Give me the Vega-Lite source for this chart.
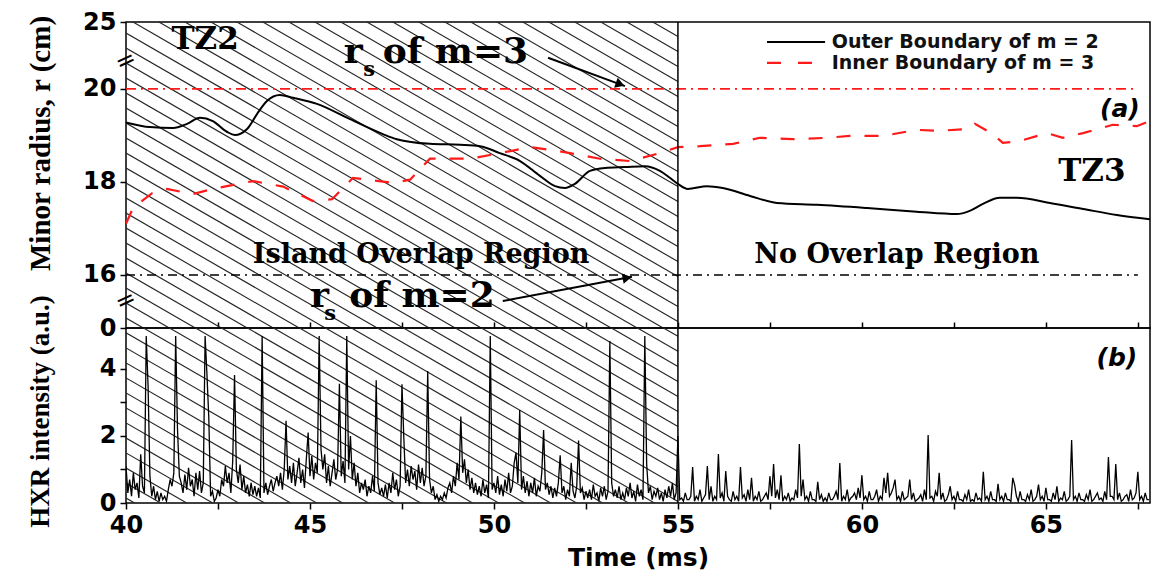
{
  "$schema": "https://vega.github.io/schema/vega-lite/v6.json",
  "autosize": {"type": "pad"},
  "padding": {"left": 25, "top": 9, "right": 0, "bottom": 5},
  "background": "white",
  "spacing": 0,
  "bounds": "flush",
  "config": {
    "view": {"stroke": "black", "strokeWidth": 1.5},
    "axis": {"labelFont": "DejaVu Sans", "labelFontWeight": "bold", "labelFontSize": 24, "labelColor": "black", "tickColor": "black", "tickWidth": 1.5, "domainColor": "black", "grid": false, "titleColor": "black", "labelOverlap": false}
  },
  "datasets": {
    "hatchTop": [
      {"t":40,"t2":55,"r":27.978,"r2":21.128},{"t":40,"t2":55,"r":27.656,"r2":20.806},{"t":40,"t2":55,"r":27.333,"r2":20.483},{"t":40,"t2":55,"r":27.010,"r2":20.160},{"t":40,"t2":55,"r":26.688,"r2":19.838},{"t":40,"t2":55,"r":26.365,"r2":19.515},{"t":40,"t2":55,"r":26.043,"r2":19.193},{"t":40,"t2":55,"r":25.720,"r2":18.870},{"t":40,"t2":55,"r":25.398,"r2":18.548},{"t":40,"t2":55,"r":25.075,"r2":18.225},{"t":40,"t2":55,"r":24.752,"r2":17.902},{"t":40,"t2":55,"r":24.430,"r2":17.580},{"t":40,"t2":55,"r":24.107,"r2":17.257},{"t":40,"t2":55,"r":23.785,"r2":16.935},{"t":40,"t2":55,"r":23.462,"r2":16.612},{"t":40,"t2":55,"r":23.139,"r2":16.289},{"t":40,"t2":55,"r":22.817,"r2":15.967},{"t":40,"t2":55,"r":22.494,"r2":15.644},{"t":40,"t2":55,"r":22.172,"r2":15.322},{"t":40,"t2":55,"r":21.849,"r2":14.999},{"t":40,"t2":55,"r":21.527,"r2":14.677},{"t":40,"t2":55,"r":21.204,"r2":14.354},{"t":40,"t2":55,"r":20.881,"r2":14.031},{"t":40,"t2":55,"r":20.559,"r2":13.709},{"t":40,"t2":55,"r":20.236,"r2":13.386},{"t":40,"t2":55,"r":19.914,"r2":13.064},{"t":40,"t2":55,"r":19.591,"r2":12.741},{"t":40,"t2":55,"r":19.269,"r2":12.419},{"t":40,"t2":55,"r":18.946,"r2":12.096},{"t":40,"t2":55,"r":18.623,"r2":11.773},{"t":40,"t2":55,"r":18.301,"r2":11.451},{"t":40,"t2":55,"r":17.978,"r2":11.128},{"t":40,"t2":55,"r":17.656,"r2":10.806},{"t":40,"t2":55,"r":17.333,"r2":10.483},{"t":40,"t2":55,"r":17.010,"r2":10.160},{"t":40,"t2":55,"r":16.688,"r2":9.838},{"t":40,"t2":55,"r":16.365,"r2":9.515},{"t":40,"t2":55,"r":16.043,"r2":9.193},{"t":40,"t2":55,"r":15.720,"r2":8.870},{"t":40,"t2":55,"r":15.398,"r2":8.548},{"t":40,"t2":55,"r":15.075,"r2":8.225}
    ],
    "hatchBot": [
      {"t":40,"t2":55,"v":14.478,"v2":4.971},{"t":40,"t2":55,"v":14.030,"v2":4.523},{"t":40,"t2":55,"v":13.582,"v2":4.075},{"t":40,"t2":55,"v":13.134,"v2":3.627},{"t":40,"t2":55,"v":12.687,"v2":3.180},{"t":40,"t2":55,"v":12.239,"v2":2.732},{"t":40,"t2":55,"v":11.791,"v2":2.284},{"t":40,"t2":55,"v":11.343,"v2":1.836},{"t":40,"t2":55,"v":10.896,"v2":1.389},{"t":40,"t2":55,"v":10.448,"v2":0.941},{"t":40,"t2":55,"v":10.000,"v2":0.493},{"t":40,"t2":55,"v":9.552,"v2":0.045},{"t":40,"t2":55,"v":9.104,"v2":-0.403},{"t":40,"t2":55,"v":8.657,"v2":-0.850},{"t":40,"t2":55,"v":8.209,"v2":-1.298},{"t":40,"t2":55,"v":7.761,"v2":-1.746},{"t":40,"t2":55,"v":7.313,"v2":-2.194},{"t":40,"t2":55,"v":6.866,"v2":-2.641},{"t":40,"t2":55,"v":6.418,"v2":-3.089},{"t":40,"t2":55,"v":5.970,"v2":-3.537},{"t":40,"t2":55,"v":5.522,"v2":-3.985},{"t":40,"t2":55,"v":5.075,"v2":-4.432},{"t":40,"t2":55,"v":4.627,"v2":-4.880},{"t":40,"t2":55,"v":4.179,"v2":-5.328},{"t":40,"t2":55,"v":3.731,"v2":-5.776},{"t":40,"t2":55,"v":3.284,"v2":-6.223},{"t":40,"t2":55,"v":2.836,"v2":-6.671},{"t":40,"t2":55,"v":2.388,"v2":-7.119},{"t":40,"t2":55,"v":1.940,"v2":-7.567},{"t":40,"t2":55,"v":1.493,"v2":-8.014},{"t":40,"t2":55,"v":1.045,"v2":-8.462},{"t":40,"t2":55,"v":0.597,"v2":-8.910},{"t":40,"t2":55,"v":0.149,"v2":-9.358}
    ],
    "outer": [
      {"t":40,"r":19.28},{"t":40.05,"r":19.27},{"t":40.65,"r":19.18},{"t":41.28,"r":19.16},{"t":41.66,"r":19.25},{"t":42.01,"r":19.38},{"t":42.36,"r":19.31},{"t":42.74,"r":19.08},{"t":42.96,"r":19.01},{"t":43.29,"r":19.14},{"t":43.56,"r":19.46},{"t":43.83,"r":19.74},{"t":44.18,"r":19.87},{"t":44.54,"r":19.81},{"t":45.19,"r":19.68},{"t":46.09,"r":19.35},{"t":46.98,"r":19.03},{"t":47.36,"r":18.92},{"t":48.26,"r":18.82},{"t":49.08,"r":18.8},{"t":49.62,"r":18.77},{"t":50.16,"r":18.62},{"t":50.71,"r":18.45},{"t":51.25,"r":18.13},{"t":51.66,"r":17.91},{"t":51.93,"r":17.87},{"t":52.2,"r":17.96},{"t":52.61,"r":18.24},{"t":53.02,"r":18.3},{"t":53.56,"r":18.32},{"t":54.1,"r":18.34},{"t":54.51,"r":18.24},{"t":54.78,"r":18.09},{"t":55,"r":17.96},{"t":55.27,"r":17.85},{"t":55.79,"r":17.91},{"t":56.22,"r":17.87},{"t":56.96,"r":17.7},{"t":57.69,"r":17.55},{"t":58.78,"r":17.51},{"t":60.14,"r":17.44},{"t":61.49,"r":17.36},{"t":62.58,"r":17.31},{"t":62.93,"r":17.38},{"t":63.29,"r":17.53},{"t":63.75,"r":17.66},{"t":64.21,"r":17.66},{"t":65.11,"r":17.55},{"t":66.01,"r":17.42},{"t":66.93,"r":17.29},{"t":67.83,"r":17.2}
    ],
    "inner": [
      {"t":40,"r":17.1},{"t":40.19,"r":17.44},{"t":40.71,"r":17.76},{"t":41.11,"r":17.85},{"t":41.82,"r":17.74},{"t":42.36,"r":17.85},{"t":43.45,"r":18.02},{"t":44.27,"r":17.9},{"t":45.08,"r":17.59},{"t":45.6,"r":17.63},{"t":46.17,"r":18.09},{"t":47.26,"r":17.98},{"t":47.72,"r":18.05},{"t":48.26,"r":18.5},{"t":49.35,"r":18.5},{"t":50.16,"r":18.62},{"t":50.98,"r":18.75},{"t":51.79,"r":18.66},{"t":52.88,"r":18.5},{"t":53.7,"r":18.45},{"t":54.51,"r":18.62},{"t":55,"r":18.75},{"t":55.6,"r":18.77},{"t":56.5,"r":18.82},{"t":57.23,"r":18.95},{"t":58.12,"r":18.92},{"t":59.05,"r":18.95},{"t":59.67,"r":18.99},{"t":60.57,"r":18.99},{"t":61.49,"r":19.12},{"t":62.12,"r":19.1},{"t":62.85,"r":19.14},{"t":63.07,"r":19.25},{"t":63.56,"r":19.03},{"t":63.83,"r":18.84},{"t":64.29,"r":18.88},{"t":65.03,"r":19.05},{"t":65.46,"r":18.95},{"t":66.01,"r":19.05},{"t":66.82,"r":19.23},{"t":67.47,"r":19.2},{"t":67.83,"r":19.31}
    ],
    "hxr": [
      {"t":40,"v":1.1},{"t":40.05,"v":0.3},{"t":40.1,"v":0.7},{"t":40.15,"v":0.2},{"t":40.2,"v":0.9},{"t":40.25,"v":0.4},{"t":40.3,"v":0.6},{"t":40.35,"v":0.15},{"t":40.4,"v":1.45},{"t":40.45,"v":0.5},
      {"t":40.5,"v":0.3},{"t":40.55,"v":4.98},{"t":40.6,"v":3.5},{"t":40.65,"v":0.8},{"t":40.7,"v":0.2},{"t":40.75,"v":0.5},{"t":40.8,"v":0.1},{"t":40.85,"v":0.35},{"t":40.9,"v":0.05},{"t":40.95,"v":0.3},
      {"t":41,"v":0.1},{"t":41.05,"v":0.2},{"t":41.1,"v":0.05},{"t":41.15,"v":0.4},{"t":41.2,"v":0.7},{"t":41.25,"v":0.5},{"t":41.3,"v":0.9},{"t":41.35,"v":4.98},{"t":41.4,"v":2.2},{"t":41.45,"v":0.8},
      {"t":41.5,"v":0.6},{"t":41.55,"v":0.3},{"t":41.6,"v":0.85},{"t":41.65,"v":0.4},{"t":41.7,"v":1.05},{"t":41.75,"v":0.5},{"t":41.8,"v":0.7},{"t":41.85,"v":0.2},{"t":41.9,"v":0.9},{"t":41.95,"v":0.4},
      {"t":42,"v":0.95},{"t":42.05,"v":0.3},{"t":42.1,"v":0.6},{"t":42.15,"v":4.98},{"t":42.2,"v":3.84},{"t":42.25,"v":2.55},{"t":42.3,"v":0.2},{"t":42.35,"v":0.35},{"t":42.4,"v":0.05},{"t":42.45,"v":0.15},
      {"t":42.5,"v":0.4},{"t":42.55,"v":0.2},{"t":42.6,"v":0.7},{"t":42.65,"v":0.5},{"t":42.7,"v":1.1},{"t":42.75,"v":0.6},{"t":42.8,"v":0.9},{"t":42.85,"v":0.3},{"t":42.9,"v":1.25},{"t":42.95,"v":3.82},
      {"t":43,"v":1.0},{"t":43.05,"v":0.6},{"t":43.1,"v":1.15},{"t":43.15,"v":0.4},{"t":43.2,"v":0.8},{"t":43.25,"v":0.3},{"t":43.3,"v":0.55},{"t":43.35,"v":0.2},{"t":43.4,"v":0.6},{"t":43.45,"v":0.25},
      {"t":43.5,"v":0.5},{"t":43.55,"v":0.2},{"t":43.6,"v":0.45},{"t":43.65,"v":0.15},{"t":43.7,"v":4.98},{"t":43.75,"v":0.3},{"t":43.8,"v":0.6},{"t":43.85,"v":0.25},{"t":43.9,"v":0.5},{"t":43.95,"v":0.7},
      {"t":44,"v":0.35},{"t":44.05,"v":0.6},{"t":44.1,"v":0.8},{"t":44.15,"v":0.5},{"t":44.2,"v":0.9},{"t":44.25,"v":0.4},{"t":44.3,"v":1.0},{"t":44.35,"v":2.45},{"t":44.4,"v":0.7},{"t":44.45,"v":1.1},
      {"t":44.5,"v":0.6},{"t":44.55,"v":1.2},{"t":44.6,"v":0.5},{"t":44.65,"v":0.9},{"t":44.7,"v":1.35},{"t":44.75,"v":0.6},{"t":44.8,"v":1.0},{"t":44.85,"v":0.45},{"t":44.9,"v":1.3},{"t":44.95,"v":2.1},
      {"t":45,"v":0.8},{"t":45.05,"v":1.4},{"t":45.1,"v":0.7},{"t":45.15,"v":1.2},{"t":45.2,"v":0.9},{"t":45.25,"v":4.98},{"t":45.3,"v":1.6},{"t":45.35,"v":1.0},{"t":45.4,"v":1.45},{"t":45.45,"v":0.6},
      {"t":45.5,"v":1.1},{"t":45.55,"v":0.5},{"t":45.6,"v":0.9},{"t":45.65,"v":1.3},{"t":45.7,"v":0.7},{"t":45.75,"v":1.0},{"t":45.8,"v":3.56},{"t":45.85,"v":0.8},{"t":45.9,"v":1.25},{"t":45.95,"v":0.6},
      {"t":46,"v":4.98},{"t":46.05,"v":1.0},{"t":46.1,"v":2.0},{"t":46.15,"v":0.7},{"t":46.2,"v":1.2},{"t":46.25,"v":0.5},{"t":46.3,"v":0.9},{"t":46.35,"v":0.3},{"t":46.4,"v":0.6},{"t":46.45,"v":0.4},
      {"t":46.5,"v":0.7},{"t":46.55,"v":0.2},{"t":46.6,"v":0.5},{"t":46.65,"v":0.3},{"t":46.7,"v":0.8},{"t":46.75,"v":0.35},{"t":46.8,"v":3.66},{"t":46.85,"v":0.6},{"t":46.9,"v":0.25},{"t":46.95,"v":0.45},
      {"t":47,"v":0.2},{"t":47.05,"v":0.55},{"t":47.1,"v":0.15},{"t":47.15,"v":0.6},{"t":47.2,"v":0.3},{"t":47.25,"v":0.9},{"t":47.3,"v":0.4},{"t":47.35,"v":0.7},{"t":47.4,"v":0.2},{"t":47.45,"v":0.5},
      {"t":47.5,"v":3.54},{"t":47.55,"v":1.96},{"t":47.6,"v":0.6},{"t":47.65,"v":1.0},{"t":47.7,"v":0.5},{"t":47.75,"v":1.1},{"t":47.8,"v":0.7},{"t":47.85,"v":0.95},{"t":47.9,"v":0.4},{"t":47.95,"v":1.15},
      {"t":48,"v":0.6},{"t":48.05,"v":1.05},{"t":48.1,"v":0.5},{"t":48.15,"v":0.8},{"t":48.2,"v":3.94},{"t":48.25,"v":0.7},{"t":48.3,"v":0.3},{"t":48.35,"v":0.5},{"t":48.4,"v":0.1},{"t":48.45,"v":0.25},
      {"t":48.5,"v":0.05},{"t":48.55,"v":0.2},{"t":48.6,"v":0.1},{"t":48.65,"v":0.3},{"t":48.7,"v":0.15},{"t":48.75,"v":0.45},{"t":48.8,"v":0.6},{"t":48.85,"v":0.3},{"t":48.9,"v":0.8},{"t":48.95,"v":0.5},
      {"t":49,"v":1.2},{"t":49.05,"v":0.7},{"t":49.1,"v":2.58},{"t":49.15,"v":0.9},{"t":49.2,"v":1.3},{"t":49.25,"v":0.6},{"t":49.3,"v":1.0},{"t":49.35,"v":0.4},{"t":49.4,"v":0.75},{"t":49.45,"v":0.3},
      {"t":49.5,"v":0.6},{"t":49.55,"v":0.25},{"t":49.6,"v":0.5},{"t":49.65,"v":0.2},{"t":49.7,"v":0.7},{"t":49.75,"v":0.3},{"t":49.8,"v":0.55},{"t":49.85,"v":0.15},{"t":49.9,"v":4.98},{"t":49.95,"v":0.4},
      {"t":50,"v":0.6},{"t":50.05,"v":0.3},{"t":50.1,"v":0.8},{"t":50.15,"v":0.25},{"t":50.2,"v":0.55},{"t":50.25,"v":0.2},{"t":50.3,"v":0.7},{"t":50.35,"v":0.35},{"t":50.4,"v":0.9},{"t":50.45,"v":0.3},
      {"t":50.5,"v":0.5},{"t":50.55,"v":1.2},{"t":50.6,"v":1.5},{"t":50.65,"v":0.6},{"t":50.7,"v":2.77},{"t":50.75,"v":0.4},{"t":50.8,"v":0.8},{"t":50.85,"v":0.3},{"t":50.9,"v":0.65},{"t":50.95,"v":0.2},
      {"t":51,"v":0.6},{"t":51.05,"v":0.3},{"t":51.1,"v":0.75},{"t":51.15,"v":0.2},{"t":51.2,"v":0.5},{"t":51.25,"v":0.35},{"t":51.3,"v":0.9},{"t":51.35,"v":2.18},{"t":51.4,"v":0.4},{"t":51.45,"v":0.6},
      {"t":51.5,"v":0.25},{"t":51.55,"v":0.5},{"t":51.6,"v":0.15},{"t":51.65,"v":0.45},{"t":51.7,"v":0.2},{"t":51.75,"v":0.6},{"t":51.8,"v":1.42},{"t":51.85,"v":0.3},{"t":51.9,"v":0.5},{"t":51.95,"v":0.1},
      {"t":52,"v":0.4},{"t":52.05,"v":0.2},{"t":52.1,"v":1.2},{"t":52.15,"v":0.35},{"t":52.2,"v":0.15},{"t":52.25,"v":0.5},{"t":52.3,"v":1.86},{"t":52.35,"v":0.3},{"t":52.4,"v":0.45},{"t":52.45,"v":0.1},
      {"t":52.5,"v":0.35},{"t":52.55,"v":0.15},{"t":52.6,"v":0.4},{"t":52.65,"v":0.1},{"t":52.7,"v":0.55},{"t":52.75,"v":0.2},{"t":52.8,"v":0.3},{"t":52.85,"v":0.05},{"t":52.9,"v":0.45},{"t":52.95,"v":0.2},
      {"t":53,"v":0.5},{"t":53.05,"v":0.1},{"t":53.1,"v":0.35},{"t":53.15,"v":4.83},{"t":53.2,"v":0.6},{"t":53.25,"v":0.2},{"t":53.3,"v":0.4},{"t":53.35,"v":0.15},{"t":53.4,"v":0.5},{"t":53.45,"v":0.1},
      {"t":53.5,"v":0.3},{"t":53.55,"v":0.1},{"t":53.6,"v":0.45},{"t":53.65,"v":0.2},{"t":53.7,"v":0.6},{"t":53.75,"v":0.15},{"t":53.8,"v":0.35},{"t":53.85,"v":0.05},{"t":53.9,"v":0.55},{"t":53.95,"v":0.2},
      {"t":54,"v":0.4},{"t":54.05,"v":0.1},{"t":54.1,"v":4.98},{"t":54.15,"v":1.17},{"t":54.2,"v":0.3},{"t":54.25,"v":0.5},{"t":54.3,"v":0.1},{"t":54.35,"v":0.35},{"t":54.4,"v":0.2},{"t":54.45,"v":0.45},
      {"t":54.5,"v":0.1},{"t":54.55,"v":0.3},{"t":54.6,"v":0.05},{"t":54.65,"v":0.4},{"t":54.7,"v":0.15},{"t":54.75,"v":0.5},{"t":54.8,"v":0.2},{"t":54.85,"v":0.6},{"t":54.9,"v":0.1},{"t":54.95,"v":0.3},
      {"t":55,"v":2.0},{"t":55.05,"v":0.1},{"t":55.1,"v":0.15},{"t":55.15,"v":0.05},{"t":55.2,"v":0.3},{"t":55.25,"v":0.1},{"t":55.3,"v":0.1},{"t":55.35,"v":0.2},{"t":55.4,"v":1.07},{"t":55.45,"v":0.05},{"t":55.5,"v":0.2},{"t":55.55,"v":0.1},{"t":55.6,"v":0.4},{"t":55.65,"v":0.05},{"t":55.7,"v":0.15},{"t":55.75,"v":0.25},{"t":55.8,"v":1.1},{"t":55.85,"v":0.1},{"t":55.9,"v":0.5},{"t":55.95,"v":0.05},
      {"t":56,"v":0.2},{"t":56.05,"v":0.1},{"t":56.1,"v":1.46},{"t":56.15,"v":0.15},{"t":56.2,"v":0.3},{"t":56.25,"v":0.05},{"t":56.3,"v":0.95},{"t":56.35,"v":0.2},{"t":56.4,"v":0.1},{"t":56.45,"v":0.05},{"t":56.5,"v":0.35},{"t":56.55,"v":0.1},{"t":56.6,"v":0.2},{"t":56.65,"v":0.05},{"t":56.7,"v":1.07},{"t":56.75,"v":0.15},{"t":56.8,"v":0.25},{"t":56.85,"v":0.05},{"t":56.9,"v":0.4},{"t":56.95,"v":0.1},
      {"t":57,"v":0.75},{"t":57.05,"v":0.05},{"t":57.1,"v":0.2},{"t":57.15,"v":0.1},{"t":57.2,"v":0.35},{"t":57.25,"v":0.05},{"t":57.3,"v":0.1},{"t":57.35,"v":0.2},{"t":57.4,"v":0.3},{"t":57.45,"v":0.1},{"t":57.5,"v":0.8},{"t":57.55,"v":0.2},{"t":57.6,"v":1.16},{"t":57.65,"v":0.15},{"t":57.7,"v":0.4},{"t":57.75,"v":0.1},{"t":57.8,"v":0.83},{"t":57.85,"v":0.05},{"t":57.9,"v":0.2},{"t":57.95,"v":0.1},
      {"t":58,"v":0.3},{"t":58.05,"v":0.05},{"t":58.1,"v":0.15},{"t":58.15,"v":0.1},{"t":58.2,"v":0.4},{"t":58.25,"v":0.15},{"t":58.3,"v":1.76},{"t":58.35,"v":0.2},{"t":58.4,"v":0.7},{"t":58.45,"v":0.1},{"t":58.5,"v":0.2},{"t":58.55,"v":0.05},{"t":58.6,"v":0.35},{"t":58.65,"v":0.1},{"t":58.7,"v":0.1},{"t":58.75,"v":0.05},{"t":58.8,"v":0.63},{"t":58.85,"v":0.1},{"t":58.9,"v":0.25},{"t":58.95,"v":0.05},
      {"t":59,"v":0.15},{"t":59.05,"v":0.05},{"t":59.1,"v":0.3},{"t":59.15,"v":0.1},{"t":59.2,"v":0.1},{"t":59.25,"v":0.2},{"t":59.3,"v":0.35},{"t":59.35,"v":0.1},{"t":59.4,"v":1.19},{"t":59.45,"v":0.05},{"t":59.5,"v":0.2},{"t":59.55,"v":0.1},{"t":59.6,"v":0.4},{"t":59.65,"v":0.05},{"t":59.7,"v":0.15},{"t":59.75,"v":0.2},{"t":59.8,"v":0.3},{"t":59.85,"v":0.1},{"t":59.9,"v":0.45},{"t":59.95,"v":0.15},
      {"t":60,"v":0.83},{"t":60.05,"v":0.1},{"t":60.1,"v":0.2},{"t":60.15,"v":0.05},{"t":60.2,"v":0.35},{"t":60.25,"v":0.1},{"t":60.3,"v":0.1},{"t":60.35,"v":0.2},{"t":60.4,"v":0.4},{"t":60.45,"v":0.05},{"t":60.5,"v":0.2},{"t":60.55,"v":0.1},{"t":60.6,"v":0.75},{"t":60.65,"v":0.3},{"t":60.7,"v":0.9},{"t":60.75,"v":0.2},{"t":60.8,"v":0.3},{"t":60.85,"v":0.45},{"t":60.9,"v":0.7},{"t":60.95,"v":0.1},
      {"t":61,"v":0.2},{"t":61.05,"v":0.05},{"t":61.1,"v":0.35},{"t":61.15,"v":0.1},{"t":61.2,"v":0.15},{"t":61.25,"v":0.2},{"t":61.3,"v":0.7},{"t":61.35,"v":0.1},{"t":61.4,"v":0.3},{"t":61.45,"v":0.05},{"t":61.5,"v":0.1},{"t":61.55,"v":0.15},{"t":61.6,"v":0.25},{"t":61.65,"v":0.05},{"t":61.7,"v":0.4},{"t":61.75,"v":0.1},{"t":61.8,"v":2.03},{"t":61.85,"v":0.15},{"t":61.9,"v":0.2},{"t":61.95,"v":0.05},
      {"t":62,"v":0.35},{"t":62.05,"v":0.2},{"t":62.1,"v":0.9},{"t":62.15,"v":0.1},{"t":62.2,"v":0.3},{"t":62.25,"v":0.05},{"t":62.3,"v":0.1},{"t":62.35,"v":0.25},{"t":62.4,"v":0.5},{"t":62.45,"v":0.1},{"t":62.5,"v":0.2},{"t":62.55,"v":0.05},{"t":62.6,"v":0.35},{"t":62.65,"v":0.1},{"t":62.7,"v":0.1},{"t":62.75,"v":0.05},{"t":62.8,"v":0.25},{"t":62.85,"v":0.1},{"t":62.9,"v":0.4},{"t":62.95,"v":0.05},
      {"t":63,"v":0.1},{"t":63.05,"v":0.05},{"t":63.1,"v":0.3},{"t":63.15,"v":0.1},{"t":63.2,"v":0.15},{"t":63.25,"v":0.05},{"t":63.3,"v":0.93},{"t":63.35,"v":0.1},{"t":63.4,"v":0.2},{"t":63.45,"v":0.05},{"t":63.5,"v":0.35},{"t":63.55,"v":0.1},{"t":63.6,"v":0.1},{"t":63.65,"v":0.05},{"t":63.7,"v":0.57},{"t":63.75,"v":0.1},{"t":63.8,"v":0.2},{"t":63.85,"v":0.05},{"t":63.9,"v":0.3},{"t":63.95,"v":0.1},
      {"t":64,"v":0.1},{"t":64.05,"v":0.05},{"t":64.1,"v":0.75},{"t":64.15,"v":0.55},{"t":64.2,"v":0.2},{"t":64.25,"v":0.05},{"t":64.3,"v":0.35},{"t":64.35,"v":0.1},{"t":64.4,"v":0.1},{"t":64.45,"v":0.05},{"t":64.5,"v":0.25},{"t":64.55,"v":0.1},{"t":64.6,"v":0.4},{"t":64.65,"v":0.05},{"t":64.7,"v":0.1},{"t":64.75,"v":0.2},{"t":64.8,"v":0.55},{"t":64.85,"v":0.1},{"t":64.9,"v":0.2},{"t":64.95,"v":0.05},
      {"t":65,"v":0.45},{"t":65.05,"v":0.1},{"t":65.1,"v":0.1},{"t":65.15,"v":0.05},{"t":65.2,"v":0.3},{"t":65.25,"v":0.1},{"t":65.3,"v":0.5},{"t":65.35,"v":0.05},{"t":65.4,"v":0.15},{"t":65.45,"v":0.1},{"t":65.5,"v":0.35},{"t":65.55,"v":0.05},{"t":65.6,"v":0.1},{"t":65.65,"v":0.2},{"t":65.7,"v":1.88},{"t":65.75,"v":0.1},{"t":65.8,"v":0.2},{"t":65.85,"v":0.05},{"t":65.9,"v":0.3},{"t":65.95,"v":0.1},
      {"t":66,"v":0.1},{"t":66.05,"v":0.05},{"t":66.1,"v":0.25},{"t":66.15,"v":0.1},{"t":66.2,"v":0.4},{"t":66.25,"v":0.05},{"t":66.3,"v":0.1},{"t":66.35,"v":0.2},{"t":66.4,"v":0.3},{"t":66.45,"v":0.1},{"t":66.5,"v":0.15},{"t":66.55,"v":0.05},{"t":66.6,"v":0.35},{"t":66.65,"v":0.1},{"t":66.7,"v":1.37},{"t":66.75,"v":0.2},{"t":66.8,"v":0.2},{"t":66.85,"v":0.1},{"t":66.9,"v":1.16},{"t":66.95,"v":0.1},
      {"t":67,"v":0.3},{"t":67.05,"v":0.05},{"t":67.1,"v":0.1},{"t":67.15,"v":0.2},{"t":67.2,"v":0.25},{"t":67.25,"v":0.05},{"t":67.3,"v":0.4},{"t":67.35,"v":0.1},{"t":67.4,"v":0.15},{"t":67.45,"v":0.3},{"t":67.5,"v":0.93},{"t":67.55,"v":0.1},{"t":67.6,"v":0.2},{"t":67.65,"v":0.05},{"t":67.7,"v":0.3},{"t":67.75,"v":0.1},{"t":67.8,"v":0.1}
    ],
    "redRef": [{"t":40,"t2":67.5,"r":20}],
    "blackRef": [{"t":40,"t2":67.5,"r":16}],
    "boundaryTop": [{"t":55,"r":14.86,"r2":21.44}],
    "boundaryBot": [{"t":55,"v":0,"v2":5.22}],
    "tz": [{"t":42.15,"r":21.05,"label":"TZ2"},{"t":66.25,"r":18.22,"label":"TZ3"}],
    "regions": [{"t":48.02,"r":16.43,"label":"Island Overlap Region"},{"t":60.95,"r":16.43,"label":"No Overlap Region"}],
    "rsMain": [{"t":45.92,"r":20.56,"label":"r"},{"t":46.98,"r":20.56,"label":"of m=3"},{"t":45.0,"r":15.31,"label":"r"},{"t":46.07,"r":15.31,"label":"of m=2"}],
    "rsSub": [{"t":46.45,"r":20.28,"label":"s"},{"t":45.39,"r":15.03,"label":"s"}],
    "arrows": [{"t":51.47,"r":20.67,"t2":53.56,"r2":20.06},{"t":50.24,"r":15.44,"t2":53.75,"r2":15.96}],
    "head1": [{"t":53.43,"r":20.1}],
    "head2": [{"t":53.62,"r":15.94}],
    "legOuter": [{"t":57.42,"t2":59.0,"r":21.01}],
    "legInner": [{"t":57.42,"t2":58.7,"r":20.56}],
    "legText": [{"t":59.18,"r":21.01,"label":"Outer Boundary of m = 2"},{"t":59.18,"r":20.56,"label":"Inner Boundary of m = 3"}],
    "panelA": [{"t":67.01,"r":19.57,"label":"(a)"}],
    "panelB": [{"t":66.93,"v":4.33,"label":"(b)"}],
    "breaks": [{"t":40,"r":20.6},{"t":40,"r":15.44}]
  },
  "vconcat": [
    {
      "width": 1024,
      "height": 306,
      "encoding": {
        "x": {"field": "t", "type": "quantitative", "scale": {"domain": [40, 67.83], "nice": false, "zero": false},
              "axis": {"title": null, "labels": false, "tickSize": -6, "domain": false, "values": [42.5,45,47.5,50,52.5,55,57.5,60,62.5,65,67.5]}},
        "y": {"field": "r", "type": "quantitative", "scale": {"domain": [14.86, 21.44], "nice": false, "zero": false},
              "axis": {"title": "Minor radius, r (cm)", "values": [14.86, 16, 18, 20, 21.44], "labelExpr": "datum.value < 15 ? '0' : (datum.value > 21 ? '25' : datum.label)", "tickSize": 6, "labelPadding": 4, "domain": false,
                       "titleFont": "Liberation Serif", "titleFontSize": 29, "titleFontWeight": "bold", "titleX": -86, "titleY": 121, "titleAngle": 270, "titleAlign": "center", "titleBaseline": "middle"}}
      },
      "layer": [
        {
          "data": {"name": "hatchTop"},
          "mark": {"type": "rule", "clip": true, "color": "#262626", "strokeWidth": 1.15},
          "encoding": {"x2": {"field": "t2"}, "y2": {"field": "r2"}}
        },
        {
          "data": {"name": "redRef"},
          "mark": {"type": "rule", "color": "#ff1a1a", "strokeWidth": 1.8, "strokeDash": [10, 5, 2, 5]},
          "encoding": {"x2": {"field": "t2"}}
        },
        {
          "data": {"name": "blackRef"},
          "mark": {"type": "rule", "color": "black", "strokeWidth": 1.3, "strokeDash": [9, 5, 2, 5]},
          "encoding": {"x2": {"field": "t2"}}
        },
        {
          "data": {"name": "outer"},
          "mark": {"type": "line", "color": "black", "strokeWidth": 2, "interpolate": "monotone", "clip": true},
          "encoding": {}
        },
        {
          "data": {"name": "inner"},
          "mark": {"type": "line", "color": "#ff1a1a", "strokeWidth": 2.2, "strokeDash": [14, 14], "clip": true},
          "encoding": {}
        },
        {
          "data": {"name": "boundaryTop"},
          "mark": {"type": "rule", "color": "black", "strokeWidth": 1.5},
          "encoding": {"y2": {"field": "r2"}}
        },
        {
          "data": {"name": "tz"},
          "mark": {"type": "text", "font": "DejaVu Serif", "fontWeight": "bold", "fontSize": 31, "align": "center", "baseline": "middle", "color": "black"},
          "encoding": {"text": {"field": "label"}}
        },
        {
          "data": {"name": "regions"},
          "mark": {"type": "text", "font": "DejaVu Serif", "fontWeight": "bold", "fontSize": 27, "align": "center", "baseline": "middle", "color": "black"},
          "encoding": {"text": {"field": "label"}}
        },
        {
          "data": {"name": "rsMain"},
          "mark": {"type": "text", "font": "DejaVu Serif", "fontWeight": "bold", "fontSize": 36, "align": "left", "baseline": "alphabetic", "color": "black"},
          "encoding": {"text": {"field": "label"}}
        },
        {
          "data": {"name": "rsSub"},
          "mark": {"type": "text", "font": "DejaVu Serif", "fontWeight": "bold", "fontSize": 21, "align": "left", "baseline": "alphabetic", "color": "black"},
          "encoding": {"text": {"field": "label"}}
        },
        {
          "data": {"name": "arrows"},
          "mark": {"type": "rule", "color": "black", "strokeWidth": 2},
          "encoding": {"x2": {"field": "t2"}, "y2": {"field": "r2"}}
        },
        {
          "data": {"name": "head1"},
          "mark": {"type": "point", "shape": "triangle-right", "filled": true, "color": "black", "size": 110, "angle": 20, "opacity": 1},
          "encoding": {}
        },
        {
          "data": {"name": "head2"},
          "mark": {"type": "point", "shape": "triangle-right", "filled": true, "color": "black", "size": 110, "angle": 349.5, "opacity": 1},
          "encoding": {}
        },
        {
          "data": {"name": "legOuter"},
          "mark": {"type": "rule", "color": "black", "strokeWidth": 2},
          "encoding": {"x2": {"field": "t2"}}
        },
        {
          "data": {"name": "legInner"},
          "mark": {"type": "rule", "color": "#ff1a1a", "strokeWidth": 2.2, "strokeDash": [14, 17]},
          "encoding": {"x2": {"field": "t2"}}
        },
        {
          "data": {"name": "legText"},
          "mark": {"type": "text", "font": "DejaVu Sans", "fontWeight": "bold", "fontSize": 19, "align": "left", "baseline": "middle", "color": "#111"},
          "encoding": {"text": {"field": "label"}}
        },
        {
          "data": {"name": "panelA"},
          "mark": {"type": "text", "font": "DejaVu Sans", "fontWeight": "bold", "fontStyle": "italic", "fontSize": 25, "align": "center", "baseline": "middle", "color": "black"},
          "encoding": {"text": {"field": "label"}}
        },
        {
          "data": {"name": "breaks"},
          "mark": {"type": "text", "font": "DejaVu Sans", "fontSize": 24, "align": "center", "baseline": "middle", "angle": 335, "color": "black", "text": "="},
          "encoding": {}
        }
      ]
    },
    {
      "width": 1024,
      "height": 175,
      "encoding": {
        "x": {"field": "t", "type": "quantitative", "scale": {"domain": [40, 67.83], "nice": false, "zero": false},
              "axis": {"title": "Time (ms)", "values": [40,42.5,45,47.5,50,52.5,55,57.5,60,62.5,65,67.5], "labelExpr": "datum.value % 5 === 0 ? datum.label : ''", "tickSize": 6, "labelPadding": 4, "labelFlush": false, "domain": false,
                       "titleFont": "DejaVu Sans", "titleFontSize": 25, "titleFontWeight": "bold", "titleX": 512, "titleY": 54, "titleAlign": "center", "titleBaseline": "middle"}},
        "y": {"field": "v", "type": "quantitative", "scale": {"domain": [0, 5.22], "nice": false, "zero": false},
              "axis": {"title": "HXR intensity (a.u.)", "values": [0,1,2,3,4], "labelExpr": "datum.value % 2 === 0 ? datum.label : ''", "tickSize": 6, "labelPadding": 4, "domain": false,
                       "titleFont": "Liberation Serif", "titleFontSize": 27, "titleFontWeight": "bold", "titleX": -86, "titleY": 83, "titleAngle": 270, "titleAlign": "center", "titleBaseline": "middle"}}
      },
      "layer": [
        {
          "data": {"name": "hatchBot"},
          "mark": {"type": "rule", "clip": true, "color": "#262626", "strokeWidth": 1.15},
          "encoding": {"x2": {"field": "t2"}, "y2": {"field": "v2"}}
        },
        {
          "data": {"name": "boundaryBot"},
          "mark": {"type": "rule", "color": "black", "strokeWidth": 1.5},
          "encoding": {"y2": {"field": "v2"}}
        },
        {
          "data": {"name": "hxr"},
          "mark": {"type": "line", "color": "black", "strokeWidth": 1.3, "clip": true},
          "encoding": {}
        },
        {
          "data": {"name": "panelB"},
          "mark": {"type": "text", "font": "DejaVu Sans", "fontWeight": "bold", "fontStyle": "italic", "fontSize": 25, "align": "center", "baseline": "middle", "color": "black"},
          "encoding": {"text": {"field": "label"}}
        }
      ]
    }
  ]
}
